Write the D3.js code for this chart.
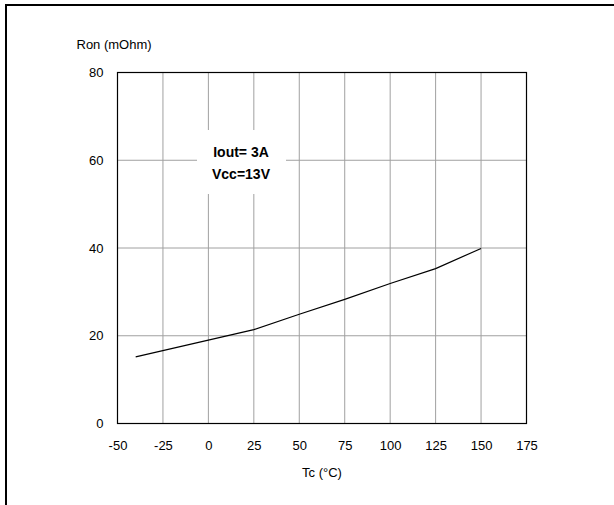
<!DOCTYPE html>
<html>
<head>
<meta charset="utf-8">
<script src="https://cdn.jsdelivr.net/npm/d3@7"></script>
<style>
  html, body { margin: 0; padding: 0; background: #fff; overflow: hidden; }
  svg { display: block; font-family: "Liberation Sans", Arial, sans-serif; }
</style>
</head>
<body>
<svg id="chart" width="614" height="505"></svg>
<script>
// curve
var temps = [-40, 25, 50, 75, 100, 125, 150];
var ron   = [15.2, 21.4, 24.9, 28.3, 31.9, 35.3, 39.9];

var xTicks = [-50, -25, 0, 25, 50, 75, 100, 125, 150, 175];
var yTicks = [0, 20, 40, 60, 80];

var noteLines = ["Iout= 3A", "Vcc=13V"];

var svg = d3.select("#chart");

// outer frame: only top and left edges are inside the crop
svg.append("path")
  .attr("d", "M6,505 V5 H614")
  .style("fill", "none")
  .style("stroke", "#000")
  .style("stroke-width", 2);

var x = d3.scaleLinear().domain([-50, 175]).range([117.5, 526.5]);
var y = d3.scaleLinear().domain([0, 80]).range([423.5, 72.5]);

// grid
svg.append("g").selectAll("line").data(xTicks).join("line")
  .attr("x1", d => x(d)).attr("x2", d => x(d))
  .attr("y1", y(0)).attr("y2", y(80))
  .style("stroke", "#a0a0a0").style("stroke-width", 1);

svg.append("g").selectAll("line").data(yTicks).join("line")
  .attr("x1", x(-50)).attr("x2", x(175))
  .attr("y1", d => y(d)).attr("y2", d => y(d))
  .style("stroke", "#a0a0a0").style("stroke-width", 1);

// plot border
svg.append("rect")
  .attr("x", x(-50)).attr("y", y(80))
  .attr("width", x(175) - x(-50)).attr("height", y(0) - y(80))
  .style("fill", "none").style("stroke", "#000").style("stroke-width", 1.2);

// axes (labels only), plain hyphen for negatives
var fmt = d => String(d);
var xAxis = svg.append("g")
  .attr("transform", "translate(0," + y(0) + ")")
  .call(d3.axisBottom(x).tickValues(xTicks).tickFormat(fmt).tickSize(0).tickPadding(17));
var yAxis = svg.append("g")
  .attr("transform", "translate(" + x(-50) + ",0)")
  .call(d3.axisLeft(y).tickValues(yTicks).tickFormat(fmt).tickSize(0).tickPadding(14));

[xAxis, yAxis].forEach(function(g) {
  g.select(".domain").remove();
  g.selectAll("text")
    .style("font-family", "'Liberation Sans', Arial, sans-serif")
    .style("font-size", "13px")
    .style("fill", "#000");
});

// axis titles
svg.append("text")
  .attr("x", 76.5).attr("y", 49)
  .style("font-size", "13px")
  .text("Ron (mOhm)");

svg.append("text")
  .attr("x", (x(-50) + x(175)) / 2).attr("y", 477)
  .attr("text-anchor", "middle")
  .style("font-size", "13px")
  .text("Tc (\u00B0C)");

// the curve
var pts = temps.map((t, i) => [t, ron[i]]);
svg.append("path")
  .datum(pts)
  .attr("d", d3.line().x(d => x(d[0])).y(d => y(d[1])))
  .style("fill", "none")
  .style("stroke", "#000")
  .style("stroke-width", 1.2);

// condition note on a white patch over the grid
svg.append("rect")
  .attr("x", 197).attr("y", 130)
  .attr("width", 89).attr("height", 64)
  .style("fill", "#fff");

svg.append("g").selectAll("text").data(noteLines).join("text")
  .attr("x", 241)
  .attr("y", (d, i) => 157 + i * 21.5)
  .attr("text-anchor", "middle")
  .style("font-size", "14px")
  .style("font-weight", "bold")
  .text(d => d);
</script>
</body>
</html>
